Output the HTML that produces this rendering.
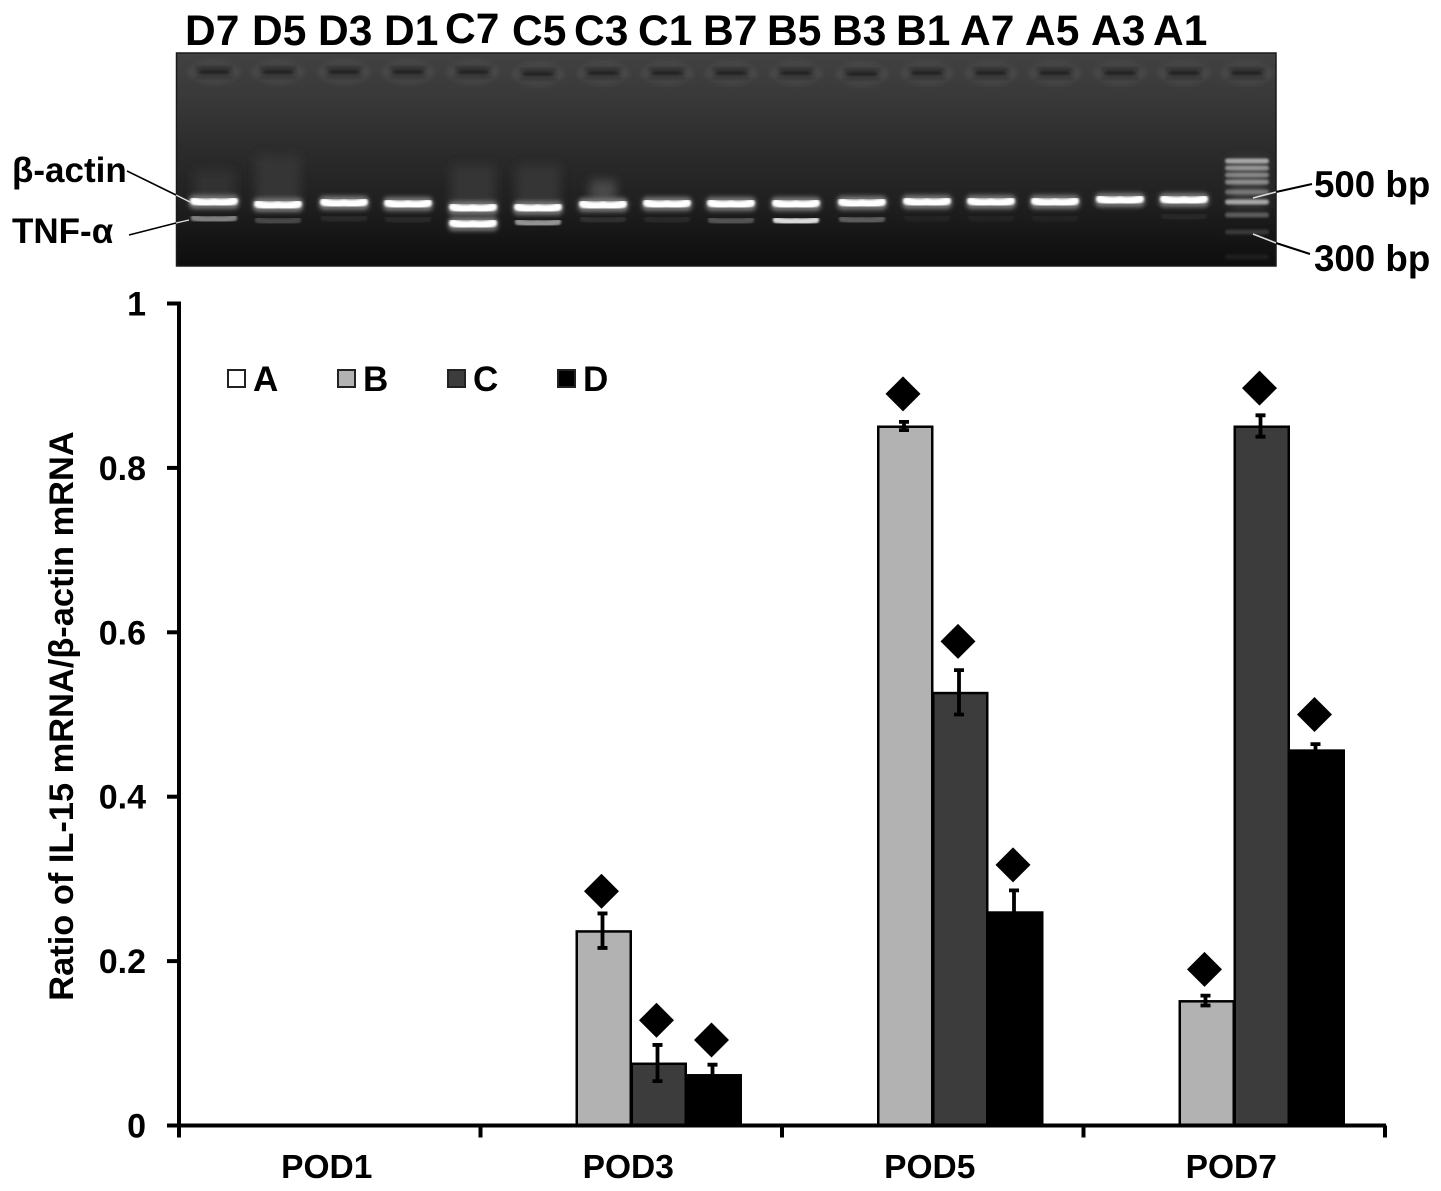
<!DOCTYPE html>
<html lang="en">
<head>
<meta charset="utf-8">
<title>IL-15 mRNA gel and bar chart</title>
<style>
html,body{margin:0;padding:0;background:#fff;}
svg{display:block;}
text{font-family:"Liberation Sans",Arial,sans-serif;font-weight:bold;fill:#000;}
</style>
</head>
<body>
<svg id="fig" xmlns="http://www.w3.org/2000/svg" width="1441" height="1191" viewBox="0 0 1441 1191">
<defs>
<linearGradient id="gelBg" x1="0" y1="0" x2="0" y2="1">
<stop offset="0" stop-color="#424242"/>
<stop offset="0.2" stop-color="#393939"/>
<stop offset="0.45" stop-color="#2c2c2c"/>
<stop offset="0.7" stop-color="#202020"/>
<stop offset="0.85" stop-color="#161616"/>
<stop offset="1" stop-color="#0e0e0e"/>
</linearGradient>
<filter id="b1" x="-30%" y="-150%" width="160%" height="400%"><feGaussianBlur stdDeviation="1"/></filter>
<filter id="b2" x="-30%" y="-150%" width="160%" height="400%"><feGaussianBlur stdDeviation="2"/></filter>
<filter id="b5" x="-40%" y="-40%" width="180%" height="180%"><feGaussianBlur stdDeviation="5"/></filter>
<g id="band">
<rect x="-25" y="-7" width="50" height="14" rx="5" fill="#777" filter="url(#b2)"/>
<path d="M-20 -1 Q-9 2 0 0 Q9 2 20 -1" fill="none" stroke="#fff" stroke-width="8" stroke-linecap="round" filter="url(#b1)"/>
</g>
<g id="faintBand">
<path d="M-20 -1 Q-9 1 0 0 Q9 1 20 -1" fill="none" stroke="#e6e6e6" stroke-width="6.5" stroke-linecap="round" filter="url(#b1)"/>
</g>
<g id="well">
<ellipse cx="0" cy="0" rx="26" ry="12" fill="#4a4a4a" filter="url(#b2)"/>
<rect x="-20" y="-6" width="40" height="3" rx="1.5" fill="#303030" filter="url(#b2)"/>
<rect x="-16" y="-2.5" width="32" height="5" rx="2.5" fill="#1a1a1a" filter="url(#b2)"/>
<rect x="-20" y="4" width="40" height="3" rx="1.5" fill="#303030" filter="url(#b2)"/>
</g>
<g id="ladderBand">
<rect x="-22" y="-2.5" width="44" height="5" rx="2.5" fill="#cfcfcf" filter="url(#b1)"/>
</g>
</defs>

<g>
<rect x="176.5" y="53" width="1099.5" height="213" fill="url(#gelBg)" stroke="#1a1a1a" stroke-width="1.5"/>
<g filter="url(#b5)">
<rect x="194" y="170" width="40" height="32" fill="#303030"/>
<rect x="256" y="155" width="44" height="50" fill="#363636"/>
<rect x="451" y="165" width="44" height="40" fill="#363636"/>
<rect x="516" y="165" width="44" height="40" fill="#363636"/>
<rect x="590" y="180" width="26" height="22" fill="#484848"/>
<rect x="1230" y="158" width="36" height="50" fill="#3e3e3e"/>
</g>
<g>
<use href="#well" x="214" y="72"/>
<use href="#well" x="278" y="72"/>
<use href="#well" x="344" y="72"/>
<use href="#well" x="408" y="72"/>
<use href="#well" x="473" y="72"/>
<use href="#well" x="538" y="74"/>
<use href="#well" x="603" y="73"/>
<use href="#well" x="667" y="73"/>
<use href="#well" x="731" y="73"/>
<use href="#well" x="796" y="73"/>
<use href="#well" x="862" y="74"/>
<use href="#well" x="927" y="73"/>
<use href="#well" x="991" y="73"/>
<use href="#well" x="1055" y="73"/>
<use href="#well" x="1120" y="73"/>
<use href="#well" x="1184" y="73"/>
<use href="#well" x="1247" y="73"/>
</g>
<g>
<use href="#band" x="214" y="202"/>
<use href="#band" x="278" y="205"/>
<use href="#band" x="344" y="203"/>
<use href="#band" x="408" y="204"/>
<use href="#band" x="473" y="208"/>
<use href="#band" x="538" y="208"/>
<use href="#band" x="603" y="205"/>
<use href="#band" x="667" y="204"/>
<use href="#band" x="731" y="204"/>
<use href="#band" x="796" y="204"/>
<use href="#band" x="862" y="203"/>
<use href="#band" x="927" y="202"/>
<use href="#band" x="991" y="202"/>
<use href="#band" x="1055" y="202"/>
<use href="#band" x="1120" y="200"/>
<use href="#band" x="1184" y="200"/>
</g>
<g>
<use href="#faintBand" x="214" y="219" opacity="0.5"/>
<use href="#faintBand" x="278" y="221" opacity="0.22"/>
<use href="#faintBand" x="344" y="219" opacity="0.07"/>
<use href="#faintBand" x="408" y="220" opacity="0.07"/>
<use href="#band" x="473" y="224"/>
<use href="#faintBand" x="538" y="223" opacity="0.6"/>
<use href="#faintBand" x="603" y="220" opacity="0.1"/>
<use href="#faintBand" x="667" y="220" opacity="0.07"/>
<use href="#faintBand" x="731" y="221" opacity="0.28"/>
<use href="#faintBand" x="796" y="221" opacity="0.95"/>
<use href="#faintBand" x="862" y="220" opacity="0.32"/>
<use href="#faintBand" x="927" y="219" opacity="0.04"/>
<use href="#faintBand" x="991" y="219" opacity="0.04"/>
<use href="#faintBand" x="1055" y="219" opacity="0.04"/>
<use href="#faintBand" x="1184" y="217" opacity="0.06"/>
</g>
<g>
<use href="#ladderBand" x="1247" y="161" opacity="0.75"/>
<use href="#ladderBand" x="1247" y="168" opacity="0.6"/>
<use href="#ladderBand" x="1247" y="175" opacity="0.5"/>
<use href="#ladderBand" x="1247" y="182" opacity="0.55"/>
<use href="#ladderBand" x="1247" y="192" opacity="0.4"/>
<use href="#ladderBand" x="1247" y="202" opacity="0.75"/>
<use href="#ladderBand" x="1247" y="215" opacity="0.35"/>
<use href="#ladderBand" x="1247" y="232" opacity="0.18"/>
<use href="#ladderBand" x="1247" y="257" opacity="0.07"/>
</g>
</g>

<g>
<text x="185" y="45" style="font-size:42.5px">D7</text>
<text x="252" y="45" style="font-size:42.5px">D5</text>
<text x="318" y="45" style="font-size:42.5px">D3</text>
<text x="384" y="45" style="font-size:42.5px">D1</text>
<text x="445" y="43" style="font-size:42.5px">C7</text>
<text x="512" y="45" style="font-size:42.5px">C5</text>
<text x="574" y="45" style="font-size:42.5px">C3</text>
<text x="638" y="45" style="font-size:42.5px">C1</text>
<text x="703" y="45" style="font-size:42.5px">B7</text>
<text x="767" y="45" style="font-size:42.5px">B5</text>
<text x="832" y="45" style="font-size:42.5px">B3</text>
<text x="896" y="45" style="font-size:42.5px">B1</text>
<text x="960" y="45" style="font-size:42.5px">A7</text>
<text x="1025" y="45" style="font-size:42.5px">A5</text>
<text x="1091" y="45" style="font-size:42.5px">A3</text>
<text x="1153" y="45" style="font-size:42.5px">A1</text>
</g>

<g>
<text x="12" y="182" style="font-size:35px">β-actin</text>
<text x="12" y="243" style="font-size:35px">TNF-α</text>
<text x="1314" y="197" style="font-size:36.7px">500 bp</text>
<text x="1314" y="271" style="font-size:36.7px">300 bp</text>
<line x1="127" y1="171" x2="176" y2="195" stroke="#000" stroke-width="1.6"/>
<line x1="176" y1="195" x2="190" y2="202" stroke="#ddd" stroke-width="1.4"/>
<line x1="129" y1="235" x2="176" y2="223" stroke="#000" stroke-width="1.6"/>
<line x1="176" y1="223" x2="189" y2="220" stroke="#ddd" stroke-width="1.4"/>
<line x1="1312" y1="184" x2="1276" y2="192" stroke="#000" stroke-width="2"/>
<line x1="1276" y1="192" x2="1253" y2="198" stroke="#ddd" stroke-width="1.6"/>
<line x1="1310" y1="254" x2="1276" y2="243" stroke="#000" stroke-width="2"/>
<line x1="1276" y1="243" x2="1253" y2="234" stroke="#ddd" stroke-width="1.6"/>
</g>

<g id="chart"></g>
</svg>

<script>
const categories = ['POD1', 'POD3', 'POD5', 'POD7'];
const seriesNames = ['A', 'B', 'C', 'D'];
const valuesA = [0, 0, 0, 0];
const valuesB = [0, 0.237, 0.851, 0.152];
const valuesC = [0, 0.076, 0.527, 0.851];
const valuesD = [0, 0.062, 0.26, 0.457];
const errorsA = [0, 0, 0, 0];
const errorsB = [0, 0.021, 0.005, 0.006];
const errorsC = [0, 0.022, 0.027, 0.013];
const errorsD = [0, 0.012, 0.026, 0.007];
const markersB = [null, 0.285, 0.89, 0.19];
const markersC = [null, 0.128, 0.589, 0.897];
const markersD = [null, 0.104, 0.317, 0.5];
const yTickValues = [0, 0.2, 0.4, 0.6, 0.8, 1];
const yTickLabels = ['0', '0.2', '0.4', '0.6', '0.8', '1'];
const yTitle = 'Ratio of IL-15 mRNA/β-actin mRNA';

const NS = 'http://www.w3.org/2000/svg';
const chart = document.getElementById('chart');
const plotLeft = 179, plotRight = 1385, plotBottom = 1125.5, plotTop = 303.5;
const barWidth = 55;
const fills = ['#ffffff', '#b2b2b2', '#3c3c3c', '#000000'];
const allValues = [valuesA, valuesB, valuesC, valuesD];
const allErrors = [errorsA, errorsB, errorsC, errorsD];
const allMarkers = [null, markersB, markersC, markersD];

function yScale(v) { return plotBottom - (v - 0) / (1 - 0) * (plotBottom - plotTop); }
function bandLeft(i) { return plotLeft + i * (plotRight - plotLeft) / categories.length; }
function bandCenter(i) { return plotLeft + (i + 0.5) * (plotRight - plotLeft) / categories.length; }
function barX(i, s) { return bandCenter(i) + (s - 2) * barWidth; }
function make(tag, attrs) {
  const el = document.createElementNS(NS, tag);
  for (const k in attrs) el.setAttribute(k, attrs[k]);
  return el;
}

categories.forEach(function (cat, i) {
  seriesNames.forEach(function (name, s) {
    const v = allValues[s][i];
    if (v > 0) {
      const bar = make('rect', { x: barX(i, s) + 0.5, y: yScale(v) + 0.75, width: barWidth - 1, height: yScale(0) - yScale(v) - 0.75, fill: fills[s], stroke: '#000', 'stroke-width': 2.5 });
      
      
      chart.appendChild(bar);
    }
  });
});

categories.forEach(function (cat, i) {
  seriesNames.forEach(function (name, s) {
    const v = allValues[s][i];
    const e = allErrors[s][i];
    if (v > 0) {
      const cx = barX(i, s) + barWidth / 2 - 1.25;
      const hi = yScale(v + e), lo = yScale(v - e);
      const stem = make('path', { d: 'M' + cx + ' ' + hi + 'V' + lo + 'M' + (cx - 5) + ' ' + hi + 'H' + (cx + 5) + 'M' + (cx - 5) + ' ' + lo + 'H' + (cx + 5), fill: 'none', stroke: '#000', 'stroke-width': 3.8 });
      
      
      chart.appendChild(stem);
      const mv = allMarkers[s] ? allMarkers[s][i] : null;
      if (mv !== null) {
        const my = yScale(mv);
        const mx = cx - 1;
        const d = make('polygon', { points: (mx - 17.5) + ',' + my + ' ' + mx + ',' + (my - 17.5) + ' ' + (mx + 17.5) + ',' + my + ' ' + mx + ',' + (my + 17.5), fill: '#000' });
        
        
        chart.appendChild(d);
      }
    }
  });
});

const yAxis = make('line', { x1: plotLeft, y1: plotTop - 2, x2: plotLeft, y2: plotBottom + 2, stroke: '#000', 'stroke-width': 4 });


chart.appendChild(yAxis);

const xAxis = make('line', { x1: plotLeft, y1: plotBottom, x2: plotRight + 1, y2: plotBottom, stroke: '#000', 'stroke-width': 4 });


chart.appendChild(xAxis);

yTickValues.forEach(function (v, i) {
  const tick = make('line', { x1: plotLeft - 12, y1: yScale(v), x2: plotLeft, y2: yScale(v), stroke: '#000', 'stroke-width': 4 });
  
  
  chart.appendChild(tick);
  const label = make('text', { x: 146, y: yScale(v) + 12, 'text-anchor': 'end', style: 'font-size:34px' });
  
  
  label.textContent = yTickLabels[i];
  chart.appendChild(label);
});

for (let i = 0; i <= categories.length; i++) {
  const tick = make('line', { x1: bandLeft(i), y1: plotBottom, x2: bandLeft(i), y2: plotBottom + 12, stroke: '#000', 'stroke-width': 4 });
  
  
  chart.appendChild(tick);
}

categories.forEach(function (cat, i) {
  const label = make('text', { x: bandCenter(i) - 3, y: 1178, 'text-anchor': 'middle', style: 'font-size:33.5px' });
  
  
  label.textContent = cat;
  chart.appendChild(label);
});

const title = make('text', { x: 0, y: 0, 'text-anchor': 'middle', transform: 'translate(73,716) rotate(-90)', style: 'font-size:34.4px' });


title.textContent = yTitle;
chart.appendChild(title);

seriesNames.forEach(function (name, s) {
  const lx = 228 + s * 110;
  const box = make('rect', { x: lx, y: 370, width: 17, height: 17, fill: fills[s], stroke: '#222', 'stroke-width': 2 });
  
  
  chart.appendChild(box);
  const label = make('text', { x: lx + 25, y: 391, style: 'font-size:35px' });
  
  
  label.textContent = name;
  chart.appendChild(label);
});
</script>
</body>
</html>
